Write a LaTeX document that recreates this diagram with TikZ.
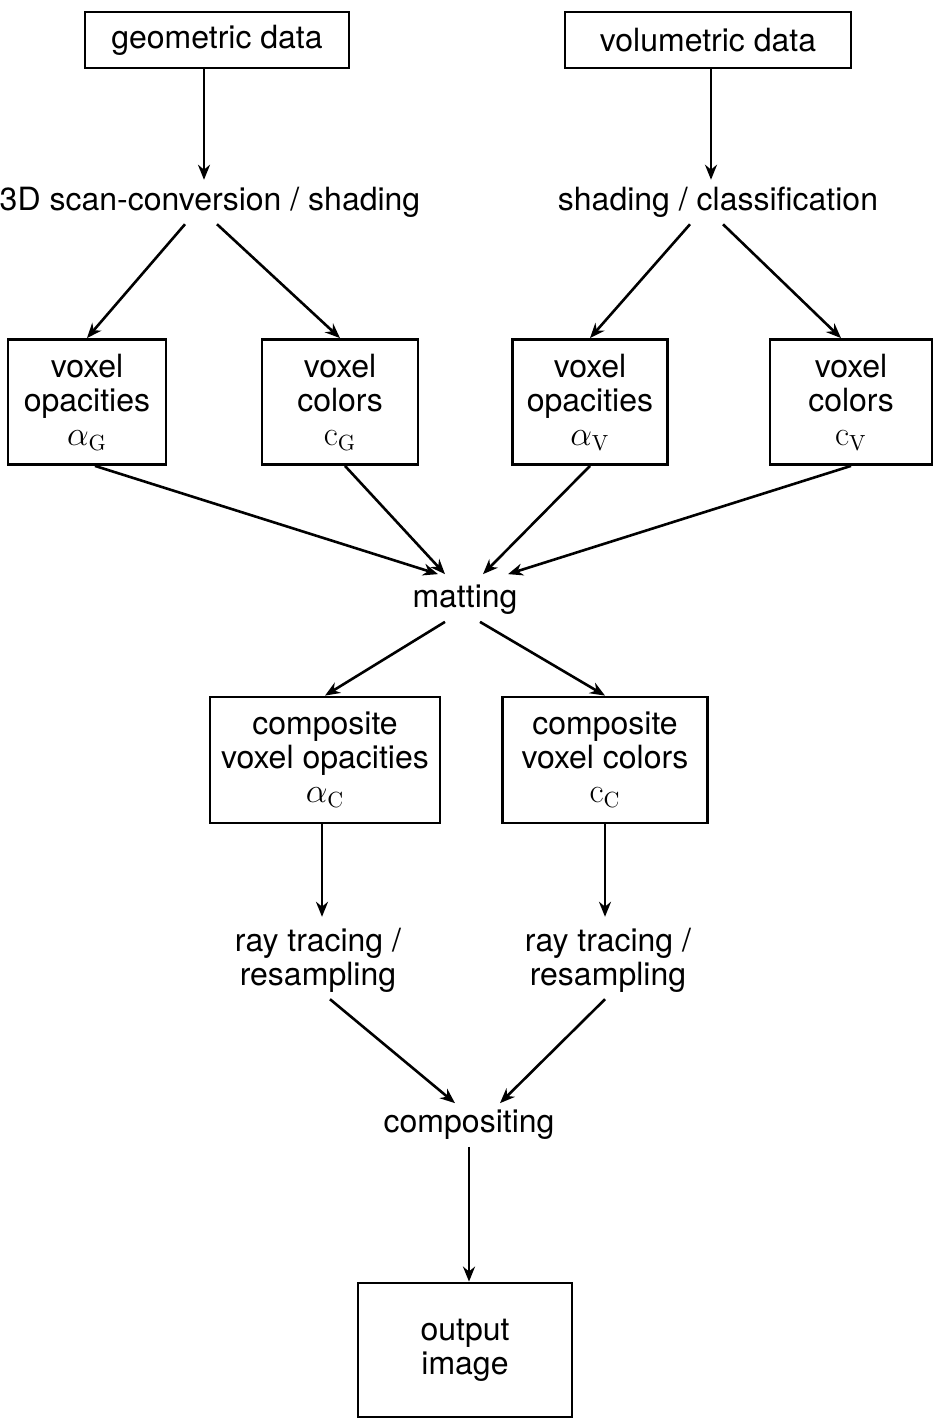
\documentclass[tikz,border=0pt]{standalone}
\usepackage[no-math]{fontspec}
\setmainfont{TeX Gyre Heros}
\usepackage{amsmath}
\usetikzlibrary{arrows.meta,positioning}

\begin{document}
\begin{tikzpicture}[x=0.5pt, y=-0.5pt,
    every node/.style={font=\fontsize{16}{17}\selectfont, align=center},
    box/.style={draw, line width=1.4pt, inner sep=2pt},
    arr/.style={-{Stealth[length=7.5pt,width=6pt]}, line width=1.3pt}]
    \useasboundingbox (0,0) rectangle (934,1418);

    % Sources
    \node[box, minimum width=132pt, minimum height=28pt] (geo) at (217,40) {geometric data};
    \node[box, minimum width=143pt, minimum height=28pt] (vol) at (708,40) {volumetric data};

    % Conversion steps
    \node (scan) at (210,202) {3D scan-conversion / shading};
    \node (shad) at (718,202) {shading / classification};

    % Voxel boxes
    \node[box, minimum width=79pt, minimum height=62.5pt] (opG) at (87,402) {voxel\\opacities\\$\alpha_{\mathrm{G}}$};
    \node[box, minimum width=78pt, minimum height=62.5pt] (colG) at (340,402) {voxel\\colors\\$\mathrm{c}_{\mathrm{G}}$};
    \node[box, minimum width=77.5pt, minimum height=62.5pt] (opV) at (590,402) {voxel\\opacities\\$\alpha_{\mathrm{V}}$};
    \node[box, minimum width=81pt, minimum height=62.5pt] (colV) at (851,402) {voxel\\colors\\$\mathrm{c}_{\mathrm{V}}$};

    % Matting
    \node (mat) at (465,600) {matting};

    % Composite boxes
    \node[box, minimum width=115pt, minimum height=63pt] (opC) at (325,760) {composite\\voxel opacities\\$\alpha_{\mathrm{C}}$};
    \node[box, minimum width=102.5pt, minimum height=63pt] (colC) at (605,760) {composite\\voxel colors\\$\mathrm{c}_{\mathrm{C}}$};

    % Resampling
    \node (rayL) at (318,960) {ray tracing /\\resampling};
    \node (rayR) at (608,960) {ray tracing /\\resampling};

    % Compositing and output
    \node (comp) at (469,1125) {compositing};
    \node[box, minimum width=107pt, minimum height=67pt] (out) at (465,1350) {output\\image};

    % Arrows
    \draw[arr] ([xshift=-6.5pt]geo.south) -- ([xshift=-3pt]scan.north);
    \draw[arr] ([xshift=1.5pt]vol.south) -- ([xshift=-3.5pt]shad.north);
    \draw[arr] ([xshift=-12.5pt]scan.south) -- (opG.north);
    \draw[arr] ([xshift=3.5pt]scan.south) -- (colG.north);
    \draw[arr] ([xshift=-14pt]shad.south) -- (opV.north);
    \draw[arr] ([xshift=2.5pt]shad.south) -- ([xshift=-5pt]colV.north);
    \draw[arr] ([xshift=4pt]opG.south) -- ([xshift=-13.5pt,yshift=2pt]mat.north);
    \draw[arr] ([xshift=2.5pt]colG.south) -- ([xshift=-10pt,yshift=2pt]mat.north);
    \draw[arr] (opV.south) -- ([xshift=9pt,yshift=2pt]mat.north);
    \draw[arr] (colV.south) -- ([xshift=21.5pt,yshift=2pt]mat.north);
    \draw[arr] ([xshift=-10pt]mat.south) -- (opC.north);
    \draw[arr] ([xshift=7.5pt]mat.south) -- (colC.north);
    \draw[arr] ([xshift=-1.5pt]opC.south) -- ([xshift=2pt,yshift=2pt]rayL.north);
    \draw[arr] (colC.south) -- ([xshift=-1.5pt,yshift=2pt]rayR.north);
    \draw[arr] ([xshift=6pt]rayL.south) -- ([xshift=-7pt]comp.north);
    \draw[arr] ([xshift=-1.5pt]rayR.south) -- ([xshift=15.5pt]comp.north);
    \draw[arr] (comp.south) -- (comp.south |- out.north);
\end{tikzpicture}
\end{document}
